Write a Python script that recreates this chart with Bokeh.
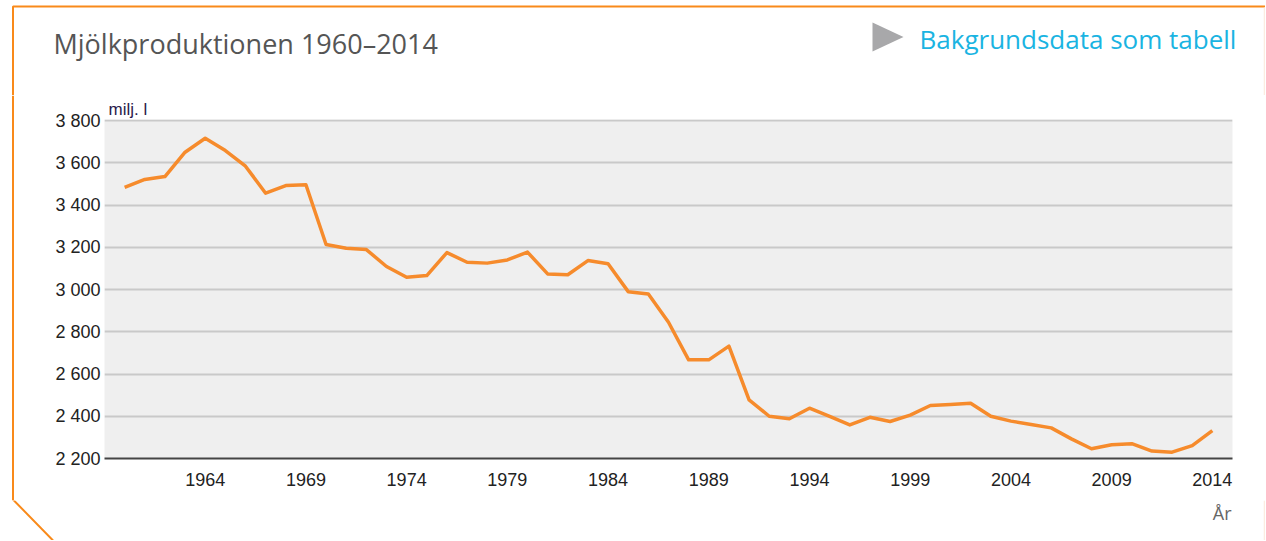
from bokeh.plotting import figure
from bokeh.embed import file_html
from bokeh.resources import INLINE
from bokeh.layouts import column, row
from bokeh.models import Label, FixedTicker, Range1d, Title

years = list(range(1960, 2015))
milk = [3484, 3521, 3535, 3650, 3716, 3658, 3584, 3456, 3492, 3496,
        3213, 3195, 3189, 3109, 3058, 3066, 3175, 3129, 3125, 3140,
        3177, 3074, 3070, 3137, 3122, 2990, 2979, 2845, 2667, 2667,
        2732, 2478, 2400, 2388, 2438, 2399, 2359, 2395, 2375, 2405,
        2451, 2456, 2462, 2400, 2377, 2361, 2345, 2293, 2246, 2265,
        2270, 2235, 2230, 2261, 2332]
y_ticks = [2200, 2400, 2600, 2800, 3000, 3200, 3400, 3600, 3800]
y_tick_labels = ["2 200", "2 400", "2 600", "2 800", "3 000", "3 200", "3 400", "3 600", "3 800"]
x_ticks = [1964, 1969, 1974, 1979, 1984, 1989, 1994, 1999, 2004, 2009, 2014]

title_text = "Mjölkproduktionen 1960–2014"
link_text = "Bakgrundsdata som tabell"
unit_text = "milj. l"
xaxis_text = "År"

ORANGE = "#f98a1a"
TOTAL_W, TOTAL_H = 1265, 540
HEAD_H = 95           # header: page y 0..95
MID_BOTTOM = 500      # chart row: page y 95..500
STRIP_W = 20
MAIN_W = TOTAL_W - STRIP_W
MID_H = MID_BOTTOM - HEAD_H
FOOT_H = TOTAL_H - MID_BOTTOM


def deco_fig(w, h, x0, x1, y_top, y_bottom):
    f = figure(width=w, height=h, output_backend="svg", toolbar_location=None,
               x_range=Range1d(x0, x1), y_range=Range1d(y_bottom, y_top),
               x_axis_type=None, y_axis_type=None, min_border=0)
    f.frame_align = False
    f.outline_line_color = None
    f.xgrid.visible = False
    f.ygrid.visible = False
    f.background_fill_color = "white"
    f.border_fill_color = "white"
    return f


# header (page coordinates)
head = deco_fig(TOTAL_W, HEAD_H, 0, TOTAL_W, 0, HEAD_H)
head.line([TOTAL_W, 12.5, 12.5], [6, 6, HEAD_H], line_color=ORANGE, line_width=2)
head.line([1264, 1264], [7, HEAD_H], line_color="#fcece0", line_width=1.5)
head.patch([872, 903, 872], [22, 36.5, 51], fill_color="#a8a8aa", line_color=None)
head.add_layout(Label(x=53, y=43, text=title_text, text_font="Open Sans", text_font_size="27px",
                      text_color="#555555", text_baseline="middle"))
head.add_layout(Label(x=919, y=38, text=link_text, text_font="Open Sans", text_font_size="26px",
                      text_color="#1ab4e2", text_baseline="middle"))

# left strip (page coordinates)
strip = deco_fig(STRIP_W, MID_H, 0, STRIP_W, HEAD_H, MID_BOTTOM)
strip.line([12.5, 12.5], [HEAD_H, MID_BOTTOM], line_color=ORANGE, line_width=2)

# footer with the cut corner and the x axis title (page coordinates)
foot = deco_fig(TOTAL_W, FOOT_H, 0, TOTAL_W, MID_BOTTOM, TOTAL_H)
foot.line([12.5, 12.5, 12.5 + (TOTAL_H - 499) * 41 / 42], [MID_BOTTOM, 499, TOTAL_H],
          line_color=ORANGE, line_width=2)
foot.line([1264, 1264], [MID_BOTTOM, TOTAL_H], line_color="#fcece0", line_width=1.5)
foot.add_layout(Label(x=1231, y=512, text=xaxis_text, text_font="Open Sans", text_font_size="18px",
                      text_color="#666666", text_align="right", text_baseline="middle"))

# main chart
p = figure(width=MAIN_W, height=MID_H, output_backend="svg", toolbar_location=None,
           x_range=Range1d(1959, 2015), y_range=Range1d(2200, 3805),
           min_border_left=104 - STRIP_W, min_border_right=TOTAL_W - 1232,
           min_border_top=119 - HEAD_H, min_border_bottom=MID_BOTTOM - 458)
p.frame_align = False
p.background_fill_color = "#efefef"
p.border_fill_color = "white"
p.outline_line_color = None

p.add_layout(Title(text=unit_text, align="left", offset=4, standoff=2, text_font="Liberation Sans",
                   text_font_size="17px", text_font_style="normal", text_color="#2b1b4b"), "above")

p.line(years, milk, line_color="#f68b2c", line_width=3.5, line_join="round")

p.xgrid.grid_line_color = None
p.ygrid.grid_line_color = "#c9c9c9"
p.ygrid.grid_line_width = 2
p.ygrid.ticker = FixedTicker(ticks=y_ticks)

p.yaxis.ticker = FixedTicker(ticks=y_ticks)
p.yaxis.major_label_overrides = {t: l for t, l in zip(y_ticks, y_tick_labels)}
p.yaxis.axis_line_color = None
p.yaxis.major_tick_line_color = None
p.yaxis.minor_tick_line_color = None
p.yaxis.major_tick_out = 0
p.yaxis.major_tick_in = 0
p.yaxis.major_label_standoff = 4
p.yaxis.major_label_text_font = "Liberation Sans"
p.yaxis.major_label_text_font_size = "18px"
p.yaxis.major_label_text_color = "#222222"

p.xaxis.ticker = FixedTicker(ticks=x_ticks)
p.xaxis.axis_line_color = "#444444"
p.xaxis.axis_line_width = 2
p.xaxis.major_tick_line_color = None
p.xaxis.minor_tick_line_color = None
p.xaxis.major_label_standoff = 8
p.xaxis.major_label_text_font = "Liberation Sans"
p.xaxis.major_label_text_font_size = "18px"
p.xaxis.major_label_text_color = "#222222"

layout = column(head, row(strip, p), foot)
open("out.html", "w").write(file_html(layout, INLINE))
